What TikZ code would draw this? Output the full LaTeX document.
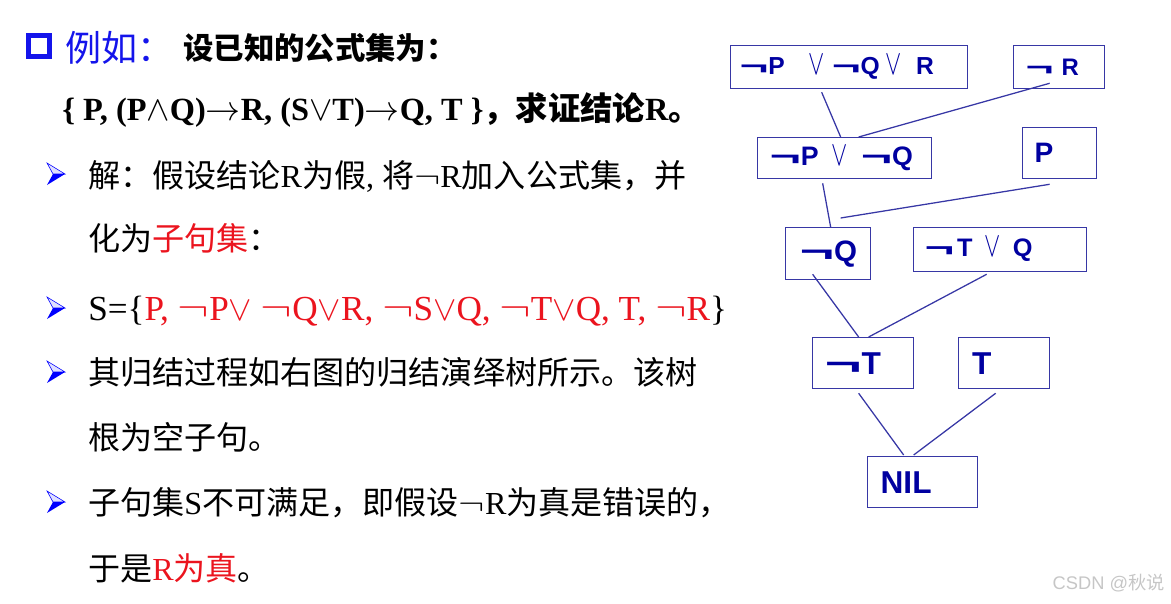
\documentclass[tikz,border=0pt]{standalone}
\usepackage{graphicx}
\usepackage{fontspec}
\setmainfont{Liberation Serif}
\newfontfamily\cjk{Noto Sans CJK SC}
\newfontfamily\arialb{Liberation Sans}
\usetikzlibrary{calc}
\definecolor{treeblue}{RGB}{0,0,160}
\definecolor{boxblue}{RGB}{55,55,165}
\definecolor{hlred}{RGB}{235,20,30}
\definecolor{titleblue}{RGB}{20,20,235}
\newlength{\pxu}
\setlength{\pxu}{0.025cm}
\newcommand{\zh}[1]{{\cjk #1}}
\newcommand{\treefont}[1]{\arialb\bfseries\fontsize{#1}{#1}\selectfont}
\newcommand{\tneg}{\scalebox{2}[1]{¬}}
\newcommand{\tor}{\scalebox{1}[1.45]{$\vee$}}
\newcommand{\bneg}{\scalebox{1.35}[1.1]{$\neg$}}
\begin{document}
\begin{tikzpicture}[x=0.025cm,y=-0.025cm,
  clause/.style={draw=boxblue,line width=0.9pt,text=treeblue,anchor=north west,align=left,inner xsep=0.3cm,inner ysep=0pt},
  edge/.style={draw=boxblue,line width=0.9pt},
  line/.style={anchor=base west,inner sep=0pt,font=\fontsize{22.8}{24}\selectfont}]
\useasboundingbox (0,0) rectangle (1171,604);
% heading
\node[draw=titleblue,line width=0.125cm,minimum size=0.525cm,inner sep=0pt] (sq) at (39,46) {};
\node[anchor=base west,inner sep=0pt,text=titleblue,font=\cjk\fontsize{25.6}{26}\selectfont] (eg) at (65,62) {例如：};
\node[anchor=base west,inner sep=0pt,font=\cjk\bfseries\fontsize{21.6}{22}\selectfont] (given) at (183,60) {设已知的公式集为：};
\node[anchor=base west,inner sep=0pt,font=\bfseries\fontsize{23}{24}\selectfont] (set) at (62,121)
  {\{ P, (P$\wedge$Q)$\to$R, (S$\vee$T)$\to$Q, T \}\zh{，求证结论}R\zh{。}};
% bullets
\foreach \y in {174,308,372,502}{
  \filldraw[draw=blue,fill=blue!12,line width=0.4pt] (65,\y) -- (47,\y-11) -- (53,\y) -- cycle;
  \fill[blue] (65,\y) -- (53,\y) -- (47,\y+11) -- cycle;
}
\node[line] (l1) at (88,187) {\zh{解：假设结论}R\zh{为假}, \zh{将}\bneg R\zh{加入公式集，并}};
\node[line] (l2) at (88,250) {\zh{化为}\textcolor{hlred}{\zh{子句集}}\zh{：}};
\node[line,font=\fontsize{25}{26}\selectfont] (l3) at (88,320) {S=\{\textcolor{hlred}{P, \bneg P$\vee$ \bneg Q$\vee$R, \bneg S$\vee$Q, \bneg T$\vee$Q, T, \bneg R}\}};
\node[line] (l4) at (88,384) {\zh{其归结过程如右图的归结演绎树所示。该树}};
\node[line] (l5) at (88,449) {\zh{根为空子句。}};
\node[line] (l6) at (88,514) {\zh{子句集}S\zh{不可满足，即假设}\bneg R\zh{为真是错误的，}};
\node[line] (l7) at (88,580) {\zh{于是}\textcolor{hlred}{R\zh{为真}}\zh{。}};
% tree
\node[clause,minimum height=1.075cm,inner xsep=0.225cm,text width=5.475cm,font=\treefont{17.5}] (pqr) at (730,45)
  {\tneg P\hspace{24\pxu}\tor\hspace{7\pxu}\tneg Q\hspace{6\pxu}\tor\hspace{14\pxu}R};
\node[clause,text width=1.675cm,minimum height=1.075cm,font=\treefont{17}] (nr) at (1013,45) {\tneg\hspace{8\pxu}R};
\node[clause,text width=3.75cm,minimum height=1.025cm,font=\treefont{19}] (pq) at (757,137) {\tneg P\hspace{13\pxu}\tor\hspace{13\pxu}\tneg Q};
\node[clause,text width=1.25cm,minimum height=1.275cm,font=\treefont{20}] (p) at (1022,127) {P};
\node[clause,text width=1.425cm,inner xsep=0.35cm,minimum height=1.3cm,font=\treefont{21}] (nq) at (785,227) {\tneg Q};
\node[clause,text width=3.775cm,inner xsep=0.275cm,minimum height=1.1cm,font=\treefont{18}] (tq) at (913,227)
  {\tneg\hspace{3\pxu}T\hspace{12\pxu}\tor\hspace{12\pxu}Q};
\node[clause,text width=1.925cm,minimum height=1.275cm,font=\treefont{22.5}] (nt) at (812,337) {\tneg T};
\node[clause,text width=1.595cm,inner xsep=0.34cm,minimum height=1.275cm,font=\treefont{22.5}] (t) at (958,337) {T};
\node[clause,text width=2.1cm,inner xsep=0.325cm,minimum height=1.275cm,font=\treefont{22.5}] (nil) at (867,456) {NIL};
\draw[edge] ($(pqr.south)+(-27.5,3)$) -- ($(pq.north)+(-4,0)$);
\draw[edge] ($(nr.south)+(-9.5,-6)$) -- ($(pq.north)+(14,0)$);
\draw[edge] ($(pq.south)+(-22,4)$) -- ($(nq.north)+(2.5,0)$);
\draw[edge] ($(p.south)+(-10,5)$) -- ($(nq.north)+(12.5,-9)$);
\draw[edge] ($(nq.south)+(-15.5,-6)$) -- ($(nt.north)+(-4.5,0)$);
\draw[edge] ($(tq.south)+(-13.5,2)$) -- ($(nt.north)+(5.5,0)$);
\draw[edge] ($(nt.south)+(-4.5,4)$) -- ($(nil.north)+(-19,-1)$);
\draw[edge] ($(t.south)+(-8.5,4)$) -- ($(nil.north)+(-9,-1)$);
% watermark
\node[anchor=east,inner sep=0pt,text=gray!45,font=\arialb\fontsize{13}{13}\selectfont] (mark) at (1165,583) {CSDN @\zh{秋说}};
\end{tikzpicture}
\end{document}
